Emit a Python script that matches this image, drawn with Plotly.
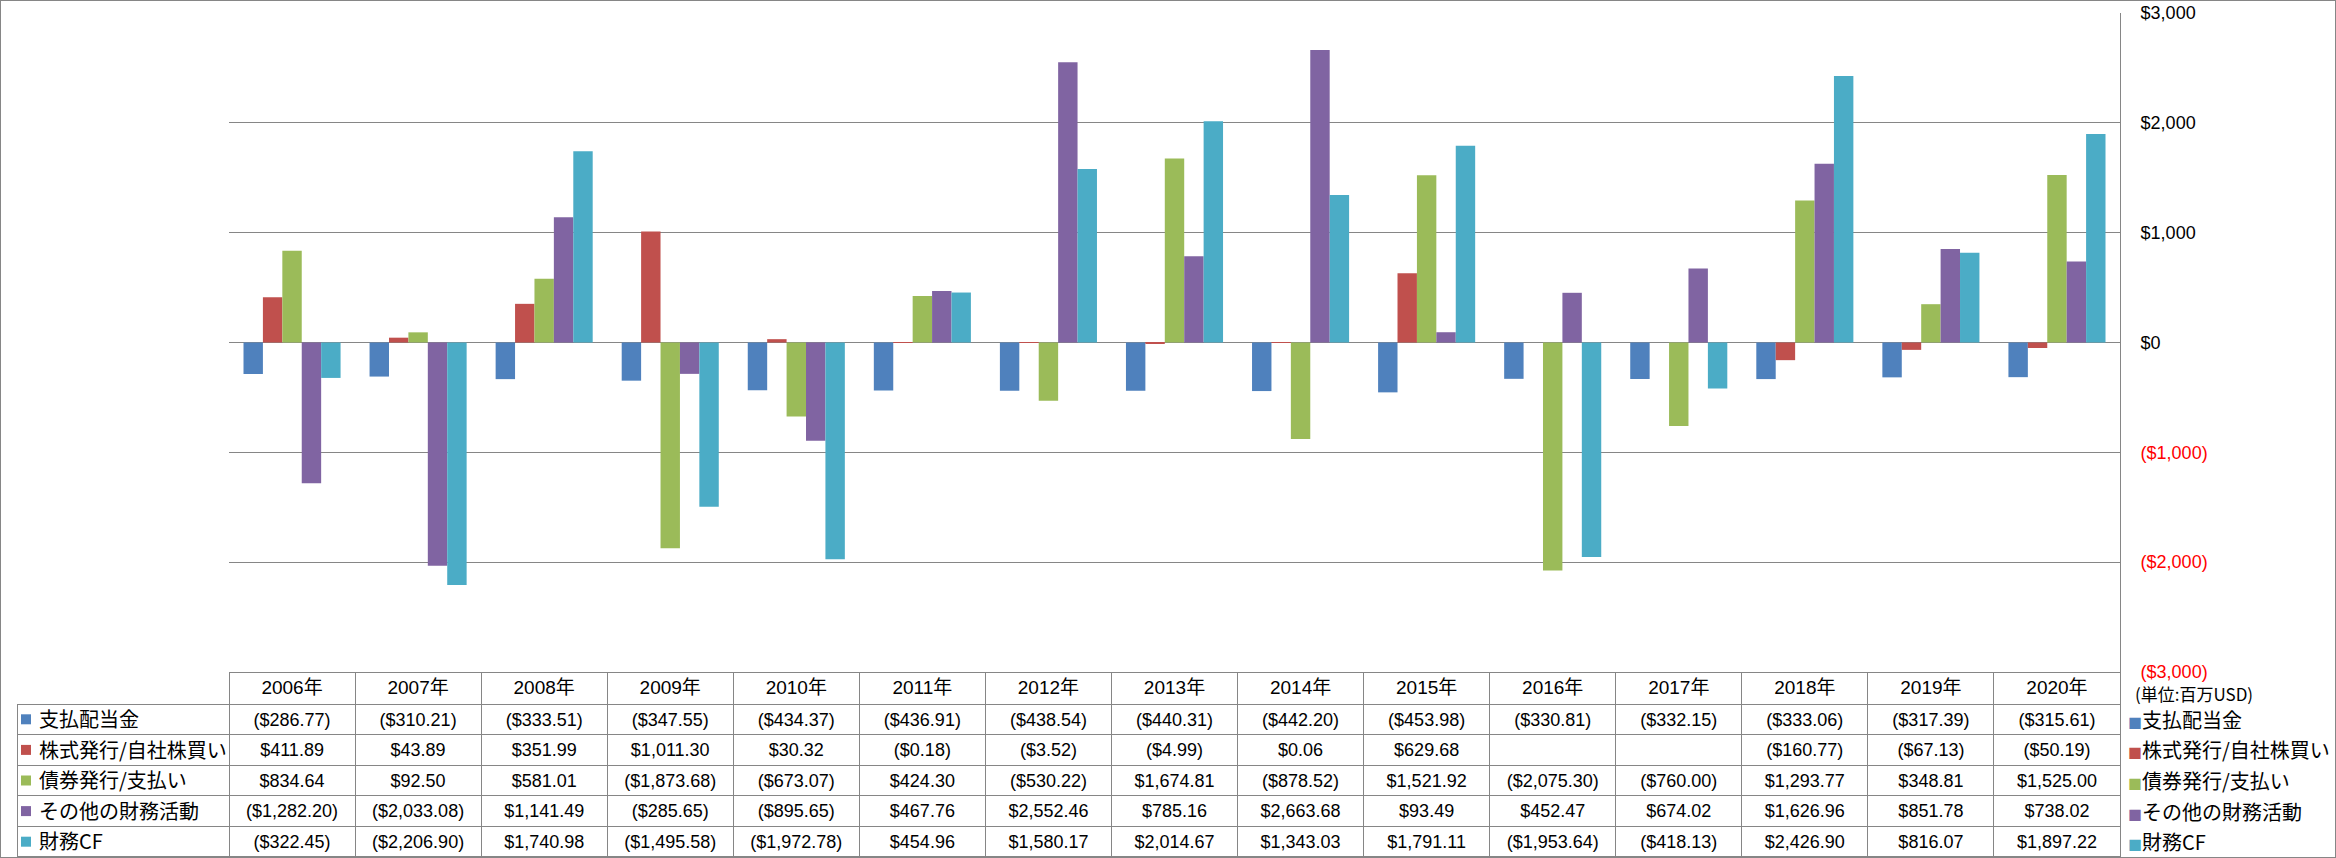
import plotly.graph_objects as go

# ---------------- data ----------------
years = ["2006年", "2007年", "2008年", "2009年", "2010年", "2011年", "2012年", "2013年",
         "2014年", "2015年", "2016年", "2017年", "2018年", "2019年", "2020年"]

series_names = ["支払配当金", "株式発行/自社株買い", "債券発行/支払い", "その他の財務活動", "財務CF"]

dividends = [-286.77, -310.21, -333.51, -347.55, -434.37, -436.91, -438.54, -440.31,
             -442.20, -453.98, -330.81, -332.15, -333.06, -317.39, -315.61]
stock_issue = [411.89, 43.89, 351.99, 1011.30, 30.32, -0.18, -3.52, -4.99,
               0.06, 629.68, None, None, -160.77, -67.13, -50.19]
debt_issue = [834.64, 92.50, 581.01, -1873.68, -673.07, 424.30, -530.22, 1674.81,
              -878.52, 1521.92, -2075.30, -760.00, 1293.77, 348.81, 1525.00]
other_fin = [-1282.20, -2033.08, 1141.49, -285.65, -895.65, 467.76, 2552.46, 785.16,
             2663.68, 93.49, 452.47, 674.02, 1626.96, 851.78, 738.02]
fin_cf = [-322.45, -2206.90, 1740.98, -1495.58, -1972.78, 454.96, 1580.17, 2014.67,
          1343.03, 1791.11, -1953.64, -418.13, 2426.90, 816.07, 1897.22]

tick_values = [-3000, -2000, -1000, 0, 1000, 2000, 3000]
unit_label = "(単位:百万USD)"

series_values = [dividends, stock_issue, debt_issue, other_fin, fin_cf]
colors = ["#4F81BD", "#C0504D", "#9BBB59", "#8064A2", "#4BACC6"]

# ---------------- layout helpers ----------------
W, H = 2336, 858
GRID = "#868686"
FONT = "Liberation Sans, Noto Sans CJK JP, sans-serif"
JFONT = "Noto Sans CJK JP, sans-serif"


def px(x):
    return x / W


def py(y):
    return 1 - y / H


def fmt(v):
    if v is None:
        return ""
    s = f"${abs(v):,.2f}"
    return f"({s})" if v < 0 else s


def fmt_tick(v):
    s = f"${abs(v):,.0f}"
    if v < 0:
        return f'<span style="color:#FF0000">({s})</span>'
    return s


plot_left, plot_right, plot_top, plot_bottom = 229, 2120, 13, 672
table_left = 17
header_h = 32
row_h = 30.6
key = 10

fig = go.Figure()

for name, vals, col in zip(series_names, series_values, colors):
    fig.add_trace(go.Bar(x=years, y=vals, name=name, marker=dict(color=col, line=dict(width=0)),
                         showlegend=False, hoverinfo="x+y+name"))

# ---------------- data table ----------------
label_col = ["\u2002\u2009" + n for n in series_names]
year_cols = [[fmt(s[i]) for s in series_values] for i in range(len(years))]

fig.add_trace(go.Table(
    domain=dict(x=[px(table_left), px(plot_right)], y=[0, py(plot_bottom)]),
    columnwidth=[plot_left - table_left] + [(plot_right - plot_left) / len(years)] * len(years),
    header=dict(values=[""] + years, height=header_h, align="center",
                fill=dict(color="white"),
                line=dict(color=["rgba(0,0,0,0)"] + [GRID] * len(years), width=1),
                font=dict(family=FONT, size=19, color="#000000")),
    cells=dict(values=[label_col] + year_cols, height=row_h,
               align=["left"] + ["center"] * len(years),
               fill=dict(color="white"),
               line=dict(color=GRID, width=1),
               font=dict(family=[JFONT] + [FONT] * len(years), size=[20] + [18] * len(years),
                         color="#000000")),
))

# ---------------- colour keys (table) and right-hand legend ----------------
annotations = []
shapes = [dict(type="rect", xref="paper", yref="paper", x0=0, x1=1, y0=0, y1=1,
               line=dict(color=GRID, width=2))]
for i, (n, c) in enumerate(zip(series_names, colors)):
    yc = plot_bottom + header_h + row_h * (i + 0.5)
    shapes.append(dict(type="rect", xref="paper", yref="paper",
                       x0=px(21), x1=px(21 + key), y0=py(yc + key / 2), y1=py(yc - key / 2),
                       fillcolor=c, line=dict(width=0)))
    annotations.append(dict(
        x=px(2126), y=py(yc), xref="paper", yref="paper", xanchor="left", yanchor="middle",
        text=f'<span style="color:{c};font-size:14px">■</span>{n}', showarrow=False,
        font=dict(family=JFONT, size=20, color="#000000")))
annotations.append(dict(
    x=px(2133), y=py(693), xref="paper", yref="paper", xanchor="left", yanchor="middle",
    text=unit_label, showarrow=False, font=dict(family=JFONT, size=17, color="#000000")))

fig.update_layout(
    width=W, height=H,
    margin=dict(l=0, r=0, t=0, b=0),
    paper_bgcolor="white", plot_bgcolor="white",
    barmode="group", bargap=0.23, bargroupgap=0,
    xaxis=dict(domain=[px(plot_left), px(plot_right)], showticklabels=False, showgrid=False,
               zeroline=False, showline=False, ticks=""),
    yaxis=dict(domain=[py(plot_bottom), py(plot_top)], range=[-3000, 3000], side="right",
               tickvals=tick_values, ticktext=[fmt_tick(v) for v in tick_values],
               showgrid=True, gridcolor=GRID, gridwidth=1,
               zeroline=True, zerolinecolor=GRID, zerolinewidth=1,
               showline=True, linecolor=GRID, linewidth=1, ticks="",
               ticklabelstandoff=16, automargin=False,
               tickfont=dict(family=FONT, size=18, color="#000000")),
    annotations=annotations,
    shapes=shapes,
    font=dict(family=FONT),
)

fig.write_html("out.html", config={"displayModeBar": False},
               post_script="document.body.style.margin='0';document.body.style.overflow='hidden';")
